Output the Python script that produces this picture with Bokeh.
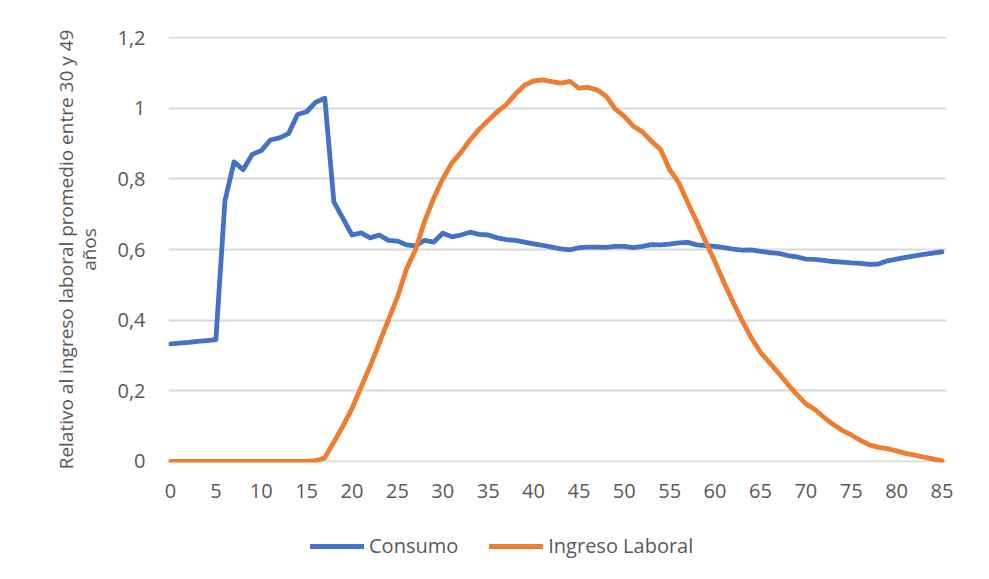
from bokeh.plotting import figure
from bokeh.layouts import column
from bokeh.models import (ColumnDataSource, FixedTicker, Range1d, Legend, LegendItem)
from bokeh.embed import file_html
from bokeh.resources import INLINE

# ---- data ----
edad = list(range(86))
consumo = [0.333, 0.335, 0.337, 0.340, 0.342, 0.345, 0.738, 0.848, 0.826, 0.869,
           0.880, 0.910, 0.916, 0.928, 0.982, 0.990, 1.017, 1.028, 0.735, 0.688,
           0.641, 0.647, 0.633, 0.641, 0.626, 0.624, 0.613, 0.610, 0.626, 0.621,
           0.646, 0.636, 0.641, 0.649, 0.643, 0.641, 0.633, 0.628, 0.626, 0.621,
           0.616, 0.612, 0.607, 0.602, 0.599, 0.605, 0.607, 0.607, 0.606, 0.609,
           0.609, 0.605, 0.609, 0.614, 0.613, 0.615, 0.619, 0.620, 0.613, 0.611,
           0.609, 0.605, 0.601, 0.598, 0.599, 0.595, 0.591, 0.589, 0.583, 0.579,
           0.573, 0.572, 0.569, 0.566, 0.564, 0.562, 0.561, 0.558, 0.559, 0.568,
           0.573, 0.578, 0.582, 0.586, 0.590, 0.593]
ingreso_laboral = [0, 0, 0, 0, 0, 0, 0, 0, 0, 0,
                   0, 0, 0, 0, 0, 0, 0.002, 0.010, 0.055, 0.100,
                   0.150, 0.210, 0.270, 0.335, 0.400, 0.465, 0.545, 0.600, 0.680, 0.745,
                   0.800, 0.845, 0.875, 0.910, 0.940, 0.965, 0.990, 1.010, 1.040, 1.065,
                   1.077, 1.080, 1.075, 1.071, 1.076, 1.057, 1.059, 1.052, 1.034, 0.998,
                   0.977, 0.949, 0.933, 0.906, 0.883, 0.826, 0.789, 0.732, 0.678, 0.620,
                   0.565, 0.505, 0.450, 0.398, 0.350, 0.309, 0.280, 0.250, 0.219, 0.190,
                   0.163, 0.147, 0.125, 0.105, 0.088, 0.075, 0.060, 0.047, 0.040, 0.036,
                   0.030, 0.023, 0.018, 0.012, 0.007, 0.002]
series_names = ["Consumo", "Ingreso Laboral"]
x_ticks = list(range(0, 86, 5))
y_ticks = [0, 0.2, 0.4, 0.6, 0.8, 1.0, 1.2]
y_tick_labels = ["0", "0,2", "0,4", "0,6", "0,8", "1", "1,2"]
y_title = "Relativo al ingreso laboral promedio entre 30 y 49\naños"

# ---- style ----
FONT = "Open Sans"
TXT = "#595959"
GRID = "#d9d9d9"
BLUE = "#4472C4"
ORANGE = "#ED7D31"
COLORS = [BLUE, ORANGE]
LW = 4.8

src = ColumnDataSource(dict(edad=edad, consumo=consumo, ingreso=ingreso_laboral))

p = figure(width=983, height=515, output_backend="svg", toolbar_location=None,
           x_range=Range1d(-0.22, 85.5), y_range=Range1d(-0.003, 1.203),
           min_border_left=168, min_border_right=37, min_border_top=36,
           min_border_bottom=53)
p.outline_line_color = None
p.background_fill_color = "white"
p.border_fill_color = "white"

p.line("edad", "consumo", source=src, color=BLUE, line_width=LW,
       line_join="round", line_cap="round")
p.line("edad", "ingreso", source=src, color=ORANGE, line_width=LW,
       line_join="round", line_cap="round")

# axes
p.xaxis.ticker = FixedTicker(ticks=x_ticks)
p.yaxis.ticker = FixedTicker(ticks=y_ticks)
p.yaxis.major_label_overrides = {t: l for t, l in zip(y_ticks, y_tick_labels)}
for ax in (p.xaxis, p.yaxis):
    ax.axis_line_color = None
    ax.major_tick_line_color = None
    ax.minor_tick_line_color = None
    ax.major_label_text_font = FONT
    ax.major_label_text_font_size = "20px"
    ax.major_label_text_color = TXT
p.yaxis.major_label_standoff = 17
p.xaxis.major_label_standoff = 15
p.yaxis.axis_label = y_title
p.yaxis.axis_label_text_font = FONT
p.yaxis.axis_label_text_font_size = "19px"
p.yaxis.axis_label_text_font_style = "normal"
p.yaxis.axis_label_text_color = TXT
p.yaxis.axis_label_standoff = 12
p.yaxis.axis_label_text_line_height = 0.9

p.xgrid.grid_line_color = None
p.ygrid.grid_line_color = GRID
p.ygrid.grid_line_width = 2

# ---- legend strip below the chart (series drawn out of view, legend only) ----
pl = figure(width=983, height=60, output_backend="svg", toolbar_location=None,
            x_range=Range1d(1000, 1001), y_range=Range1d(1000, 1001),
            min_border_left=0, min_border_right=0, min_border_top=0,
            min_border_bottom=0)
pl.axis.visible = False
pl.grid.grid_line_color = None
pl.outline_line_color = None
pl.background_fill_color = "white"
pl.border_fill_color = "white"
items = []
for name, col, ycol in zip(series_names, COLORS, ["consumo", "ingreso"]):
    r = pl.line("edad", ycol, source=src, color=col, line_width=LW,
                line_cap="round")
    items.append(LegendItem(label=name, renderers=[r]))

legend = Legend(items=items, orientation="horizontal", location=(142, 16))
legend.border_line_color = None
legend.background_fill_alpha = 0
legend.padding = 0
legend.margin = 0
legend.spacing = 31
legend.glyph_width = 54
legend.glyph_height = 26
legend.label_standoff = 5
legend.label_text_font = FONT
legend.label_text_font_size = "20px"
legend.label_text_color = TXT
pl.add_layout(legend, "center")

layout = column(p, pl, spacing=0)
open("out.html", "w").write(file_html(layout, INLINE))
